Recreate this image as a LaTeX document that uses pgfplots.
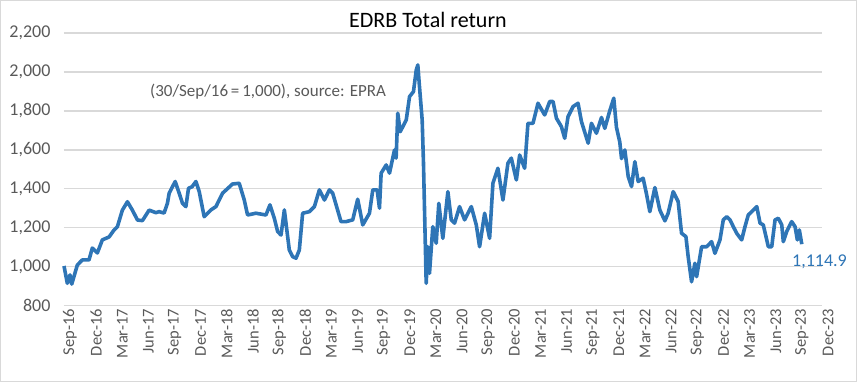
\documentclass[border=0pt]{standalone}
\usepackage{fontspec}
\setmainfont{Carlito}
\usepackage{pgfplots}
\pgfplotsset{compat=1.18}
\definecolor{linecol}{HTML}{2E75B6}
\definecolor{gridcol}{HTML}{D9D9D9}
\definecolor{txtcol}{HTML}{595959}
\begin{document}
\begin{tikzpicture}
\useasboundingbox (0,0) rectangle (857pt,382pt);
\draw[gridcol, line width=1.2pt] (0.6pt,0.6pt) rectangle (856.4pt,381.4pt);
\begin{axis}[
  at={(64pt,76.5pt)}, anchor=south west,
  scale only axis, width=758pt, height=272.5pt,
  xmin=0, xmax=87, ymin=800, ymax=2200,
  ytick={800,1000,...,2200},
  xtick={0,3,...,87},
  xticklabels={Sep-16,Dec-16,Mar-17,Jun-17,Sep-17,Dec-17,Mar-18,Jun-18,Sep-18,Dec-18,Mar-19,Jun-19,Sep-19,Dec-19,Mar-20,Jun-20,Sep-20,Dec-20,Mar-21,Jun-21,Sep-21,Dec-21,Mar-22,Jun-22,Sep-22,Dec-22,Mar-23,Jun-23,Sep-23,Dec-23},
  ymajorgrids, grid style={gridcol, line width=1.5pt},
  axis line style={draw=none},
  major tick length=0pt,
  tick label style={text=txtcol},
  yticklabel style={font=\fontsize{18}{21}\selectfont, xshift=-10pt},
  xticklabel style={font=\fontsize{16.5}{19}\selectfont, rotate=90, anchor=east, yshift=-6pt},
  clip=false,
  /pgf/number format/.cd, 1000 sep={,}, assume math mode=true,
]
\addplot[linecol, line width=3.6pt, line join=round] coordinates {
(0,1003) (0.38,914) (0.69,957) (0.89,910) (1.53,1008) (2.10,1034) (2.87,1034) (3.25,1095) (3.83,1070) (4.40,1137) (5.17,1152) (5.75,1188) (6.13,1205) (6.70,1290) (7.28,1333) (7.85,1290) (8.43,1239) (9.00,1236) (9.77,1290) (10.54,1277) (10.92,1282) (11.49,1275) (11.87,1325) (12.07,1377) (12.76,1437) (13.22,1377) (13.60,1325) (13.99,1308) (14.29,1402) (14.70,1410) (15.14,1437) (15.52,1385) (16.09,1256) (16.86,1291) (17.44,1308) (18.20,1377) (19.34,1424) (20.11,1428) (20.69,1342) (21.07,1265) (22.03,1274) (23.18,1265) (23.64,1317) (24.14,1248) (24.52,1180) (24.91,1162) (25.29,1291) (25.67,1154) (25.86,1085) (26.24,1051) (26.63,1043) (27.01,1085) (27.39,1274) (28.16,1282) (28.74,1308) (29.31,1394) (29.89,1342) (30.46,1394) (30.84,1377) (31.79,1231) (32.38,1231) (33.14,1240) (33.71,1346) (34.29,1214) (35.06,1274) (35.44,1394) (35.94,1394) (36.21,1300) (36.40,1480) (36.98,1522) (37.36,1480) (37.93,1599) (38.12,1557) (38.31,1788) (38.59,1693) (39.28,1753) (39.66,1873) (40.11,1899) (40.43,2010) (40.61,2036) (40.80,1925) (41.11,1753) (41.26,1531) (41.57,914) (41.76,1102) (41.95,965) (42.33,1205) (42.72,1120) (43.02,1325) (43.48,1145) (44.06,1385) (44.45,1240) (44.83,1223) (45.40,1308) (45.98,1240) (46.75,1308) (47.32,1214) (47.70,1102) (48.28,1274) (48.85,1145) (49.23,1428) (49.80,1505) (50.38,1342) (50.95,1531) (51.34,1557) (51.92,1445) (52.30,1573) (52.87,1505) (53.25,1736) (53.83,1736) (54.40,1839) (55.17,1779) (55.75,1848) (56.13,1848) (56.52,1762) (57.09,1719) (57.47,1659) (57.85,1770) (58.43,1822) (59.00,1839) (59.39,1745) (60.16,1634) (60.54,1736) (61.11,1685) (61.69,1766) (62.07,1710) (62.64,1800) (63.10,1865) (63.41,1715) (63.79,1640) (63.99,1555) (64.37,1599) (64.76,1462) (65.14,1411) (65.52,1539) (65.90,1437) (66.47,1454) (66.86,1372) (67.24,1282) (67.82,1406) (68.39,1290) (68.97,1235) (69.34,1274) (69.92,1385) (70.49,1334) (70.88,1171) (71.38,1154) (71.64,1051) (72.03,922) (72.41,1017) (72.61,948) (73.18,1102) (73.76,1102) (74.33,1128) (74.71,1068) (75.29,1137) (75.67,1240) (76.06,1256) (76.44,1240) (76.82,1205) (77.21,1171) (77.78,1137) (78.16,1205) (78.54,1265) (79.51,1308) (79.89,1223) (80.26,1214) (80.84,1102) (81.23,1102) (81.61,1240) (81.99,1248) (82.38,1214) (82.56,1128) (82.95,1180) (83.52,1231) (83.91,1205) (84.17,1137) (84.40,1188) (84.68,1115)
};
\end{axis}
\node[font=\fontsize{22}{26}\selectfont, text=black] at (428pt,362pt) {EDRB Total return};
\node[font=\fontsize{17}{20}\selectfont, text=txtcol, anchor=west, inner sep=0pt] at (150pt,290pt) {(30/Sep/16\,=\,1,000), source: EPRA};
\node[font=\fontsize{18}{22}\selectfont, text=linecol, anchor=west, inner sep=0pt] at (792pt,120pt) {1,114.9};
\end{tikzpicture}
\end{document}
